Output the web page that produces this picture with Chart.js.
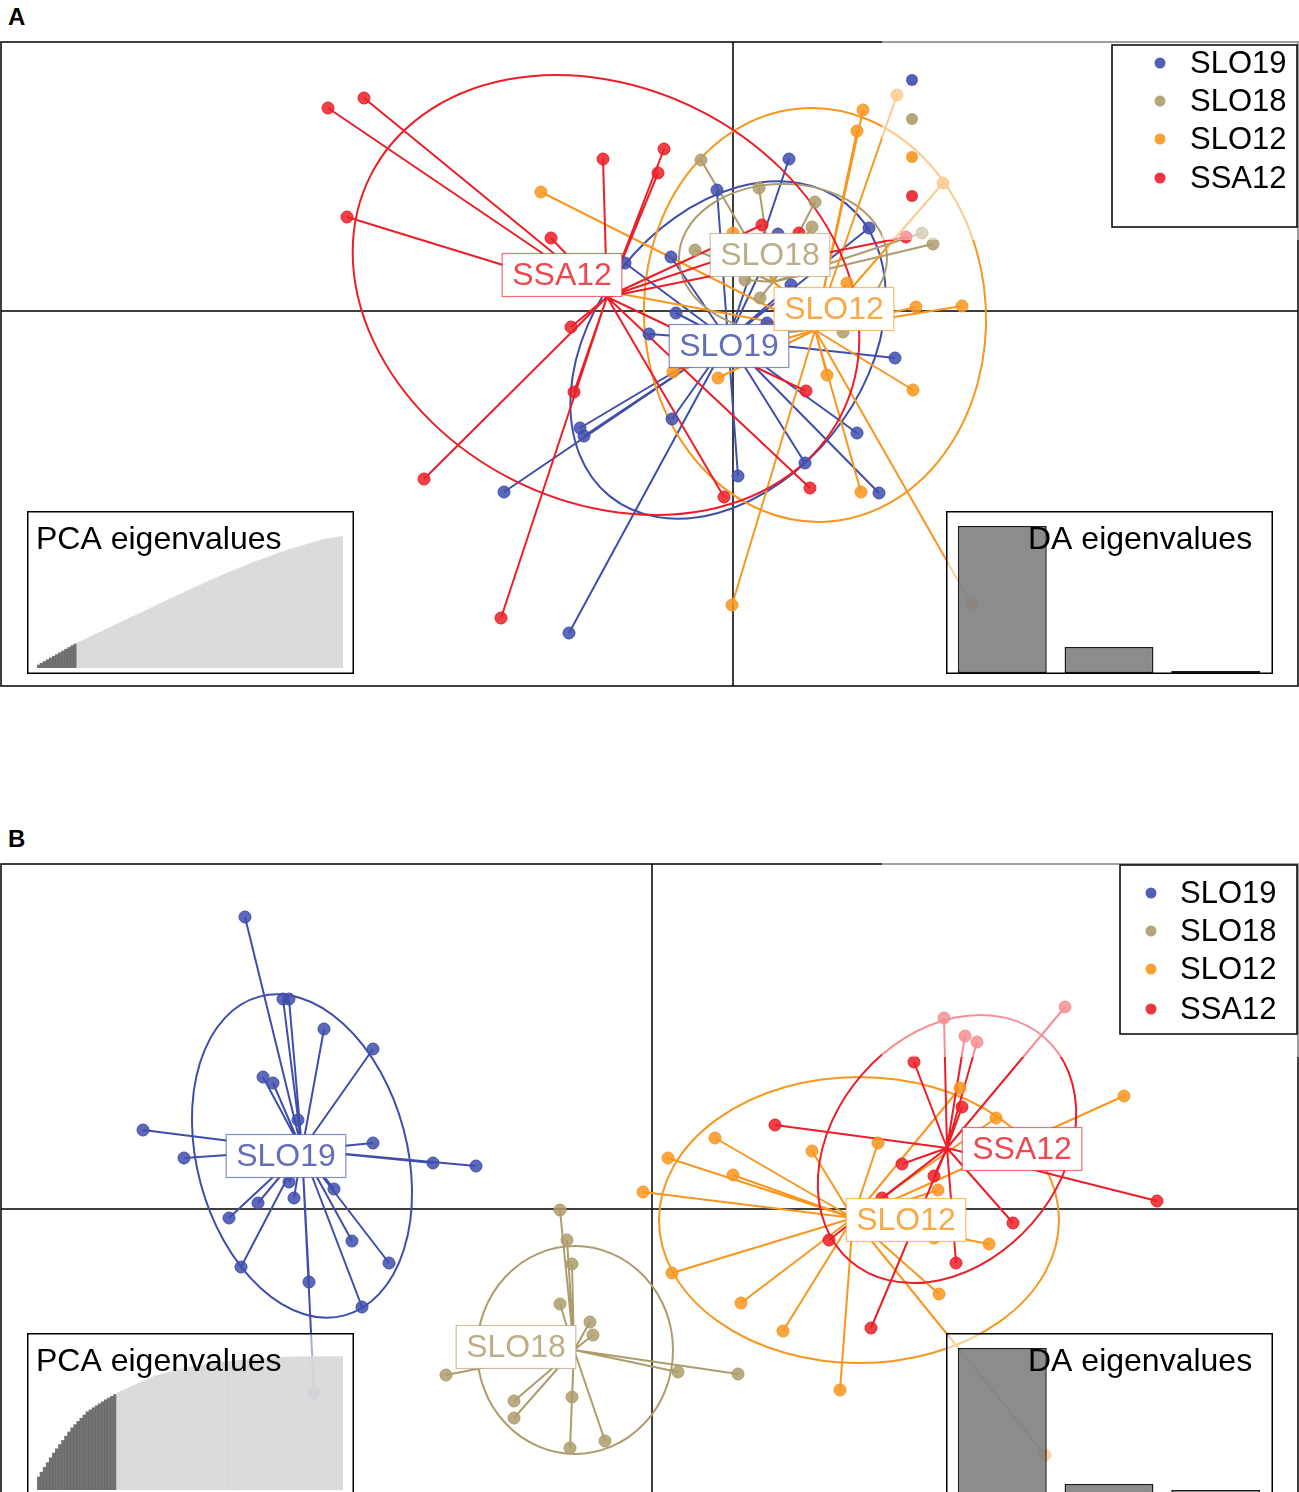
<!DOCTYPE html>
<html>
<head>
<meta charset="utf-8">
<script src="https://cdn.jsdelivr.net/npm/chart.js@4.4.1/dist/chart.umd.min.js"></script>
<style>
  html, body { margin: 0; padding: 0; background: #fff; overflow: hidden; }
  body { width: 1299px; height: 1492px; position: relative; font-family: "Liberation Sans", Arial, sans-serif; }
  canvas { position: absolute; }
  .tag { position: absolute; left: 8px; font-weight: bold; font-size: 24px; line-height: 24px; }
</style>
</head>
<body>
<div class="tag" style="top:5px">A</div>
<div class="tag" style="top:827px">B</div>
<canvas id="scatterA" width="1299" height="670" style="left:0;top:30px;width:1299px;height:670px"></canvas>
<canvas id="pcaA" width="327" height="163" style="left:27px;top:511px;width:327px;height:163px"></canvas>
<canvas id="daA" width="327" height="163" style="left:946px;top:511px;width:327px;height:163px"></canvas>
<canvas id="scatterB" width="1299" height="660" style="left:0;top:852px;width:1299px;height:660px"></canvas>
<canvas id="pcaB" width="327" height="163" style="left:27px;top:1333px;width:327px;height:163px"></canvas>
<canvas id="daB" width="327" height="163" style="left:946px;top:1333px;width:327px;height:163px"></canvas>
<script>
Chart.defaults.font.family = '"Liberation Sans", Arial, sans-serif';

const groupNames = ['SLO19', 'SLO18', 'SLO12', 'SSA12'];
const groupColors = ['#3F4EAD', '#AD9C6C', '#F8961E', '#EC1E27'];

// ---- panel A: scores on LD1 / LD2 ----
const aSLO19x = [0.56, -0.16, -0.62, -1.08, 1.36, 0.45, 0.58, -0.57, -0.84, 0.34, 1.62, -1.53, -1.49, -2.29, -0.61, 0.05, 0.72, 1.24, 1.46, -1.64];
const aSLO19y = [1.52, 1.21, 0.54, 0.48, 0.83, 0.77, 0.26, -0.02, -0.23, -0.12, -0.47, -1.17, -1.25, -1.81, -1.08, -1.65, -1.52, -1.22, -1.82, -3.22];
const aSLO18x = [-0.32, 0.26, 0.82, 0.79, -0.38, 2.00, 1.89, 0.12, 0.27, 1.10];
const aSLO18y = [1.51, 1.23, 1.09, 0.84, 0.61, 0.67, 0.78, 0.31, 0.13, -0.21];
const aSLO12x = [-1.92, 1.30, 1.64, 1.24, 2.10, 1.14, 1.83, 2.29, -0.60, -0.15, 0.94, 1.80, 1.28, -0.01, 0.00, 2.39, -1.33];
const aSLO12y = [1.19, 2.01, 2.16, 1.80, 1.28, 0.28, 0.04, 0.05, -0.61, -0.67, -0.64, -0.79, -1.81, -2.94, 0.78, -2.94, 0.21];
const aSSA12x = [-4.05, -3.69, -3.86, -1.30, -0.69, -0.75, -1.82, -1.62, -1.59, -3.09, -2.32, -0.09, 0.73, 0.77, 0.29, 0.66, 1.73];
const aSSA12y = [2.03, 2.13, 0.94, 1.52, 1.62, 1.38, 0.73, -0.16, -0.81, -1.68, -3.07, -1.86, -0.80, -1.77, 0.86, 0.78, 0.74];
const aCentX = [-0.05, 0.40, 0.82, -1.26];
const aCentY = [-0.29, 0.29, -0.19, 0.14];
const aEllCx = [-0.05, 0.50, 0.82, -1.27];
const aEllCy = [-0.39, 0.53, -0.04, 0.16];
const aEllA = [1.88, 1.04, 2.07, 2.64];
const aEllB = [1.34, 0.74, 1.71, 2.07];
const aEllAngle = [51, 0, 93, -27];
const aLabX = [-0.04, 0.37, 1.01, -1.71];
const aLabY = [-0.35, 0.56, 0.02, 0.36];

// ---- panel B ----
const bSLO19x = [-4.07, -3.69, -3.63, -3.28, -2.79, -3.89, -3.79, -3.54, -5.09, -4.68, -2.79, -2.19, -1.76, -3.63, -3.58, -3.18, -3.94, -4.23, -3.00, -2.63, -4.11, -3.43, -2.90, -3.38];
const bSLO19y = [2.92, 2.10, 2.10, 1.80, 1.60, 1.32, 1.26, 0.89, 0.79, 0.51, 0.66, 0.46, 0.43, 0.27, 0.11, 0.20, 0.06, -0.09, -0.32, -0.54, -0.58, -0.73, -0.98, -1.84];
const bSLO18x = [-0.92, -0.85, -0.80, -0.92, -0.62, -0.59, 0.26, 0.86, -2.06, -1.38, -1.38, -0.80, -0.47, -0.82];
const bSLO18y = [-0.01, -0.31, -0.55, -0.95, -1.13, -1.26, -1.63, -1.65, -1.66, -1.92, -2.09, -1.88, -2.32, -2.39];
const bSLO12x = [-0.09, 0.16, 0.63, 0.81, 1.60, 2.26, 0.20, 0.89, 1.31, 1.88, 2.87, 3.37, 2.82, 2.86, 3.08, 3.44, 4.72, 3.93];
const bSLO12y = [0.17, 0.51, 0.71, 0.34, 0.58, 0.66, -0.64, -0.94, -1.22, -1.81, -0.85, -0.35, -0.29, 0.19, 1.21, 0.91, 1.13, -2.46];
const bSSA12x = [1.23, 2.62, 3.10, 2.50, 2.82, 3.61, 3.04, 2.19, 1.77, 5.05, 2.30, 2.92, 3.13, 3.25, 4.13];
const bSSA12y = [0.84, 1.47, 1.02, 0.45, 0.33, -0.14, -0.54, -1.19, -0.31, 0.08, 0.11, 1.91, 1.73, 1.67, 2.02];
const bCentX = [-3.50, -0.78, 2.01, 2.95];
const bCentY = [0.59, -1.41, -0.09, 0.61];
const bEllCx = [-3.50, -0.77, 2.07, 2.95];
const bEllCy = [0.53, -1.41, -0.11, 0.60];
const bEllA = [1.65, 1.04, 2.00, 1.48];
const bEllB = [1.05, 0.98, 1.43, 1.13];
const bEllAngle = [105, 90, 0, 49];
const bLabX = [-3.66, -1.36, 2.54, 3.70];
const bLabY = [0.53, -1.38, -0.11, 0.60];

// ---- eigenvalue insets ----
const pcaEigA = [3.0, 4.8, 6.5, 8.3, 10.0, 11.8, 13.5, 15.3, 17.0, 18.8, 20.5, 22.3, 24.0,
  25.5, 26.9, 28.4, 29.8, 31.3, 32.7, 34.2, 35.6, 37.1, 38.5, 40.0, 41.4, 42.9, 44.3, 45.8,
  47.2, 48.7, 50.1, 51.6, 53.0, 54.5, 55.9, 57.4, 58.8, 60.3, 61.7,
  63.2, 64.6, 66.1, 67.5, 69.0, 70.4, 71.9, 73.3, 74.8, 76.2, 77.6,
  79.0, 80.4, 81.8, 83.1, 84.5, 85.9, 87.3, 88.7, 90.0, 91.4, 92.8,
  94.0, 95.3, 96.5, 97.8, 99.0, 100.3, 101.5, 102.8, 104.0, 105.3, 106.5,
  107.6, 108.7, 109.8, 110.9, 112.0, 113.1, 114.2, 115.3, 116.4, 117.5, 118.6,
  119.5, 120.4, 121.3, 122.2, 123.1, 124.0, 124.9, 125.8, 126.7, 127.6, 128.5,
  129.0, 129.5, 130.0, 130.5, 131.0, 131.5];
const pcaEigB = [13.0, 17.8, 22.6, 27.4, 32.2, 37.0, 41.2, 45.4, 49.6, 53.8, 58.0, 62.2,
  65.4, 68.6, 71.8, 75.0, 78.2, 80.2, 82.2, 84.2, 86.2, 88.2, 90.2, 92.0, 93.7, 95.5, 97.2,
  98.6, 100.0, 101.4, 102.8, 104.2, 105.6, 107.0, 108.4, 109.8, 111.2, 112.6, 114.0,
  114.8, 115.6, 116.4, 117.2, 118.0, 118.8, 119.6, 120.4, 121.2, 122.0, 122.8,
  123.3, 123.7, 124.2, 124.6, 125.1, 125.5, 126.0, 126.4, 126.9, 127.3, 127.8,
  128.1, 128.4, 128.7, 129.0, 129.3, 129.6, 129.9, 130.2, 130.5, 130.8, 131.1,
  131.3, 131.4, 131.6, 131.8, 132.0, 132.1, 132.3, 132.5, 132.7, 132.8, 133.0,
  133.0, 133.1, 133.1, 133.1, 133.2, 133.2, 133.2, 133.3, 133.3, 133.3, 133.4, 133.4, 133.4, 133.5, 133.5, 133.5, 133.5];
const pcaRetainedA = 13;
const pcaRetainedB = 26;
const daEigA = [100, 17.7, 1.4];
const daEigB = [100, 7.5, 3.4];

function rgba(hex, a) {
  const n = parseInt(hex.slice(1), 16);
  return 'rgba(' + (n >> 16) + ',' + ((n >> 8) & 255) + ',' + (n & 255) + ',' + a + ')';
}

function dapcPlugin(p) {
  return {
    id: 'dapcDecor',
    beforeDatasetsDraw(chart) {
      const { ctx, chartArea: ca } = chart;
      const sx = chart.scales.x, sy = chart.scales.y;
      ctx.save();
      ctx.beginPath();
      ctx.rect(ca.left, ca.top, ca.width, ca.height);
      ctx.clip();
      // axes through the origin
      ctx.strokeStyle = '#000';
      ctx.lineWidth = 1.5;
      const x0 = sx.getPixelForValue(0), y0 = sy.getPixelForValue(0);
      ctx.beginPath();
      ctx.moveTo(ca.left, y0); ctx.lineTo(ca.right, y0);
      ctx.moveTo(x0, ca.top); ctx.lineTo(x0, ca.bottom);
      ctx.stroke();
      // ellipses and stars
      groupNames.forEach((g, k) => {
        const col = groupColors[k];
        const ex = sx.getPixelForValue(p.ellCx[k]), ey = sy.getPixelForValue(p.ellCy[k]);
        const ra = Math.abs(sx.getPixelForValue(p.ellCx[k] + p.ellA[k]) - ex);
        const rb = Math.abs(sy.getPixelForValue(p.ellCy[k] + p.ellB[k]) - ey);
        ctx.strokeStyle = col;
        ctx.lineWidth = 2;
        ctx.beginPath();
        ctx.ellipse(ex, ey, ra, rb, -p.ellAngle[k] * Math.PI / 180, 0, Math.PI * 2);
        ctx.stroke();
        const cx = sx.getPixelForValue(p.centX[k]), cy = sy.getPixelForValue(p.centY[k]);
        ctx.beginPath();
        p.xs[k].forEach((v, i) => {
          ctx.moveTo(cx, cy);
          ctx.lineTo(sx.getPixelForValue(v), sy.getPixelForValue(p.ys[k][i]));
        });
        ctx.stroke();
      });
      ctx.restore();
    },
    afterDatasetsDraw(chart) {
      const { ctx, chartArea: ca } = chart;
      const sx = chart.scales.x, sy = chart.scales.y;
      ctx.save();
      // group labels
      ctx.font = '32px "Liberation Sans", Arial, sans-serif';
      ctx.textAlign = 'center';
      ctx.textBaseline = 'middle';
      groupNames.forEach((g, k) => {
        const lx = sx.getPixelForValue(p.labX[k]), ly = sy.getPixelForValue(p.labY[k]);
        const w = ctx.measureText(g).width + 20, h = 43;
        ctx.fillStyle = '#fff';
        ctx.fillRect(lx - w / 2, ly - h / 2, w, h);
        ctx.strokeStyle = rgba(groupColors[k], 0.65);
        ctx.lineWidth = 1.2;
        ctx.strokeRect(lx - w / 2, ly - h / 2, w, h);
        ctx.fillStyle = rgba(groupColors[k], 0.82);
        ctx.fillText(g, lx, ly + 1);
      });
      // frame
      ctx.strokeStyle = '#000';
      ctx.lineWidth = 1.5;
      ctx.strokeRect(ca.left, ca.top, ca.width, ca.height);
      // translucent legend area
      ctx.fillStyle = 'rgba(255,255,255,0.5)';
      ctx.fillRect(ca.left + 881, ca.top - 1, ca.right - ca.left - 880, p.fadeH);
      // marker column of the underlying key
      p.keyDotsY.forEach((dy, k) => {
        ctx.beginPath();
        ctx.arc(ca.left + 911, ca.top + dy, 6, 0, Math.PI * 2);
        ctx.fillStyle = rgba(groupColors[k], 0.9);
        ctx.fill();
      });
      // legend box
      const L = p.legend;
      ctx.fillStyle = '#fff';
      ctx.fillRect(ca.left + L.x, ca.top + L.y, L.w, L.h);
      ctx.strokeStyle = '#000';
      ctx.lineWidth = 1.5;
      ctx.strokeRect(ca.left + L.x, ca.top + L.y, L.w, L.h);
      ctx.font = '31px "Liberation Sans", Arial, sans-serif';
      ctx.textAlign = 'left';
      groupNames.forEach((g, k) => {
        const yy = ca.top + L.rows[k];
        ctx.beginPath();
        ctx.arc(ca.left + L.dotX, yy, 5.5, 0, Math.PI * 2);
        ctx.fillStyle = rgba(groupColors[k], 0.9);
        ctx.fill();
        ctx.fillStyle = '#000';
        ctx.fillText(g, ca.left + L.textX, yy + 1);
      });
      ctx.restore();
    }
  };
}

function makeScatter(id, p) {
  const datasets = groupNames.map((g, k) => ({
    label: g,
    data: p.xs[k].map((v, i) => ({ x: v, y: p.ys[k][i] })),
    backgroundColor: rgba(groupColors[k], 0.85),
    borderColor: groupColors[k],
    borderWidth: 1,
    pointRadius: 6
  }));
  return new Chart(document.getElementById(id), {
    type: 'scatter',
    data: { datasets },
    options: {
      responsive: false,
      animation: false,
      layout: { padding: p.pad, autoPadding: false },
      scales: {
        x: { type: 'linear', min: p.xMin, max: p.xMax, display: false },
        y: { type: 'linear', min: p.yMin, max: p.yMax, display: false }
      },
      plugins: { legend: { display: false }, tooltip: { enabled: false } }
    },
    plugins: [dapcPlugin(p)]
  });
}

function insetPlugin(title, titleX) {
  return {
    id: 'insetBox',
    beforeDraw(chart) {
      const { ctx, width, height } = chart;
      ctx.save();
      ctx.fillStyle = 'rgba(255,255,255,0.55)';
      ctx.fillRect(0, 0, width, height);
      ctx.restore();
    },
    afterDraw(chart) {
      const { ctx, width, height } = chart;
      ctx.save();
      ctx.strokeStyle = '#000';
      ctx.lineWidth = 1.5;
      ctx.strokeRect(0.75, 0.75, width - 1.5, height - 1.5);
      ctx.fillStyle = '#000';
      ctx.font = '32px "Liberation Sans", Arial, sans-serif';
      ctx.textBaseline = 'alphabetic';
      ctx.fillText(title, titleX, 38);
      ctx.restore();
    }
  };
}

function makeInset(id, values, colors, yMax, pad, barPct, border, title, titleX) {
  return new Chart(document.getElementById(id), {
    type: 'bar',
    data: {
      labels: values.map((v, i) => String(i + 1)),
      datasets: [{
        data: values,
        backgroundColor: colors,
        borderColor: border,
        borderWidth: border ? 1.5 : 0,
        borderSkipped: false,
        barPercentage: barPct,
        categoryPercentage: 1
      }]
    },
    options: {
      responsive: false,
      animation: false,
      layout: { padding: pad, autoPadding: false },
      scales: {
        x: { display: false },
        y: { display: false, min: 0, max: yMax }
      },
      plugins: { legend: { display: false }, tooltip: { enabled: false } }
    },
    plugins: [insetPlugin(title, titleX)]
  });
}

makeScatter('scatterA', {
  xs: [aSLO19x, aSLO18x, aSLO12x, aSSA12x],
  ys: [aSLO19y, aSLO18y, aSLO12y, aSSA12y],
  centX: aCentX, centY: aCentY,
  ellCx: aEllCx, ellCy: aEllCy, ellA: aEllA, ellB: aEllB, ellAngle: aEllAngle,
  labX: aLabX, labY: aLabY,
  xMin: -7.32, xMax: 5.65, yMin: -3.75, yMax: 2.69,
  pad: { left: 1, right: 1, top: 12, bottom: 14 },
  fadeH: 199,
  keyDotsY: [38, 77, 115, 154],
  legend: { x: 1111, y: 3, w: 185, h: 182, dotX: 1159, textX: 1189, rows: [21, 59, 97, 136] }
});

makeScatter('scatterB', {
  xs: [bSLO19x, bSLO18x, bSLO12x, bSSA12x],
  ys: [bSLO19y, bSLO18y, bSLO12y, bSSA12y],
  centX: bCentX, centY: bCentY,
  ellCx: bEllCx, ellCy: bEllCy, ellA: bEllA, ellB: bEllB, ellAngle: bEllAngle,
  labX: bLabX, labY: bLabY,
  xMin: -6.51, xMax: 6.46, yMin: -2.99, yMax: 3.45,
  pad: { left: 1, right: 1, top: 12, bottom: 4 },
  fadeH: 194,
  keyDotsY: [],
  legend: { x: 1119, y: 1, w: 177, h: 169, dotX: 1150, textX: 1179, rows: [29, 67, 105, 145] }
});

const pcaColorsA = pcaEigA.map((v, i) => i < pcaRetainedA ? 'rgba(100,100,100,0.9)' : 'rgba(214,215,215,0.88)');
const pcaColorsB = pcaEigB.map((v, i) => i < pcaRetainedB ? 'rgba(100,100,100,0.9)' : 'rgba(214,215,215,0.88)');
const pcaPad = { left: 10, right: 11, top: 4, bottom: 6 };
const daPad = { left: 3, right: 4, top: 15, bottom: 1 };

makeInset('pcaA', pcaEigA, pcaColorsA, 153, pcaPad, 1.0, null, 'PCA eigenvalues', 9);
makeInset('daA', daEigA, 'rgba(120,120,120,0.85)', 100, daPad, 0.833, '#1a1a1a', 'DA eigenvalues', 82);
makeInset('pcaB', pcaEigB, pcaColorsB, 153, pcaPad, 1.0, null, 'PCA eigenvalues', 9);
makeInset('daB', daEigB, 'rgba(120,120,120,0.85)', 100, daPad, 0.833, '#1a1a1a', 'DA eigenvalues', 82);
</script>
</body>
</html>
